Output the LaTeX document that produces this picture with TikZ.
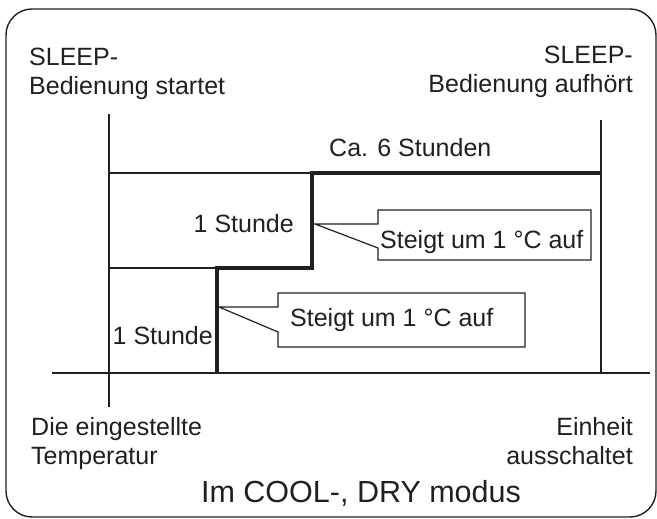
\documentclass[tikz,border=0pt]{standalone}
\usepackage{fontspec}
\setmainfont{Liberation Sans}
\definecolor{ink}{HTML}{231F20}
\begin{document}
\begin{tikzpicture}[x=1pt, y=-1pt, ink,
    txt/.style={font=\fontsize{25}{29}\selectfont, inner sep=0pt, text=ink},
    thinline/.style={draw=ink, line width=1.4pt},
    stepline/.style={draw=ink, line width=3.6pt, line join=miter},
    callout/.style={draw=ink, line width=1.2pt, line join=miter}]
        \useasboundingbox (0,0) rectangle (657,519);
        % Frame
        \draw[line width=1.4pt, rounded corners=26pt] (6,9) rectangle (656,517);

        % Chart corners
        \coordinate (start top) at (109,114);
        \coordinate (start bot) at (109,407);
        \coordinate (stop top) at (601,120);
        \coordinate (stop bot) at (601,373);
        \coordinate (axis l) at (52,373);
        \coordinate (axis r) at (650,373);
        \coordinate (lvl0) at (217,373);
        \coordinate (lvl1 l) at (109,268);
        \coordinate (lvl1) at (217,268);
        \coordinate (lvl1 r) at (312,268);
        \coordinate (lvl2 l) at (109,173);
        \coordinate (lvl2) at (312,173);
        \coordinate (lvl2 r) at (601,173);

        \draw[thinline] (start top) -- (start bot);
        \draw[thinline] (stop top) -- (stop bot);
        \draw[thinline] (axis l) -- (axis r);
        \draw[thinline] (lvl1 l) -- (lvl1);
        \draw[thinline] (lvl2 l) -- (lvl2);

        % Temperature steps
        \draw[stepline] (lvl0) -- (lvl1) -- (lvl1 r) -- (lvl2) -- (lvl2 r);

        % Callouts
        \draw[callout] (315,224) -- (378,224) -- (378,210) -- (591,210)
            -- (591,260) -- (378,260) -- (378,248) -- cycle;
        \draw[callout] (219,307) -- (278,307) -- (278,293) -- (525,293)
            -- (525,347) -- (278,347) -- (278,332) -- cycle;

        % Labels
        \node[txt, anchor=north west, align=left] (start) at (29,48) {SLEEP-\\Bedienung startet};
        \node[txt, anchor=north east, align=right] (stop) at (633,46) {SLEEP-\\Bedienung aufhört};
        \node[txt, anchor=base west] (total) at (329,157) {Ca. 6 Stunden};
        \node[txt, anchor=base east] (hour2) at (294,232) {1 Stunde};
        \node[txt, anchor=base east] (hour1) at (213,344) {1 Stunde};
        \node[txt, anchor=base west] (rise2) at (380,248) {Steigt um 1 °C auf};
        \node[txt, anchor=base west] (rise1) at (290,326) {Steigt um 1 °C auf};
        \node[txt, anchor=north west, align=left] (set) at (31,417) {Die eingestellte\\Temperatur};
        \node[txt, anchor=north east, align=right] (off) at (633,417) {Einheit\\ausschaltet};
        \node[txt, font=\fontsize{30.5}{36}\selectfont, anchor=base] (mode) at (361,502) {Im COOL-, DRY modus};
\end{tikzpicture}
\end{document}
